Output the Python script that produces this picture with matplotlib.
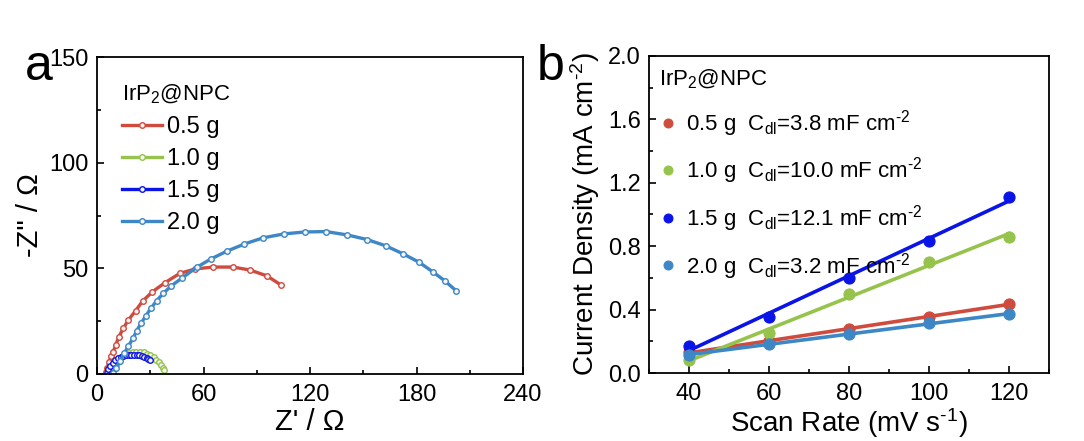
import matplotlib
matplotlib.use("Agg")
import matplotlib.pyplot as plt
import numpy as np
from matplotlib.ticker import MultipleLocator

plt.rcParams['font.family'] = ['Liberation Sans', 'DejaVu Sans']
plt.rcParams['mathtext.fontset'] = 'custom'
plt.rcParams['mathtext.rm'] = 'Liberation Sans'
plt.rcParams['mathtext.it'] = 'Liberation Sans'

# ---- panel a: Nyquist plots ----
labels_a = ['0.5 g', '1.0 g', '1.5 g', '2.0 g']

zr_05 = [5.1, 5.6, 6.8, 7.9, 9.2, 10.5, 12.4, 14.8, 17.7, 21.8, 25.7, 31.2, 38.3,
         46.6, 55.2, 65.4, 76.6, 86.2, 95.8, 103.7]
zi_05 = [1.0, 2.8, 5.7, 8.5, 10.6, 13.7, 17.7, 21.6, 25.6, 30.0, 34.5, 38.9, 43.2,
         47.6, 49.7, 50.6, 50.6, 49.2, 46.4, 42.1]

zr_10 = [8.3, 9.3, 10.5, 11.8, 13.2, 14.8, 16.5, 18.3, 20.2, 22.2, 24.2, 26.2,
         28.2, 30.1, 31.9, 33.5, 35.0, 36.3, 37.4, 38.0]
zi_10 = [0.3, 2.4, 4.3, 5.9, 7.2, 8.3, 9.2, 9.9, 10.3, 10.5, 10.5, 10.2,
         9.7, 8.9, 7.9, 6.8, 5.6, 4.3, 3.0, 1.8]

zr_15 = [5.4, 6.4, 7.6, 8.9, 10.3, 11.8, 13.3, 14.8, 16.3, 17.8, 19.3, 20.8,
         22.3, 23.8, 25.2, 26.6, 27.9, 29.0, 29.9]
zi_15 = [0.3, 2.3, 4.0, 5.4, 6.5, 7.4, 8.0, 8.5, 8.8, 9.0, 9.1, 9.1,
         9.0, 8.8, 8.5, 8.1, 7.6, 7.1, 6.6]

zr_20 = [8.8, 10.5, 13.0, 15.4, 17.7, 20.3, 22.4, 24.8, 27.4, 30.4, 33.6, 37.4,
         41.7, 47.7, 56.2, 64.1, 73.1, 83.0, 93.4, 105.4, 117.0, 129.0, 141.0,
         152.3, 162.8, 172.6, 181.4, 189.1, 196.1, 202.3]
zi_20 = [0.5, 2.7, 6.3, 9.8, 13.3, 16.9, 20.5, 24.0, 27.4, 31.1, 34.7, 38.2,
         41.6, 45.3, 50.5, 54.4, 58.1, 61.5, 64.4, 66.3, 67.2, 67.4, 65.8,
         63.6, 60.6, 56.8, 52.9, 48.4, 44.0, 39.4]

# ---- panel b: Cdl ----
scan_rate = [40, 60, 80, 100, 120]
j_05 = [0.13, 0.20, 0.28, 0.355, 0.435]
j_10 = [0.082, 0.25, 0.50, 0.70, 0.86]
j_15 = [0.17, 0.355, 0.597, 0.835, 1.11]
j_20 = [0.114, 0.183, 0.246, 0.313, 0.372]
cdl = ['3.8', '10.0', '12.1', '3.2']

colors = ['#cf4b3e', '#96c34c', '#0a14e6', '#3e87c6']

fig = plt.figure(figsize=(10.84, 4.41), dpi=100)
ax1 = fig.add_axes([97/1084, 67/441, 426/1084, 317/441])
ax2 = fig.add_axes([649/1084, 68/441, 400/1084, 317/441])

for ax in (ax1, ax2):
    for s in ax.spines.values():
        s.set_linewidth(1.3)
    ax.tick_params(which='both', direction='in', top=False, right=False,
                   labelsize=17, width=1.2)
    ax.tick_params(which='major', length=5)
    ax.tick_params(which='minor', length=3)
    ax.tick_params(axis='x', pad=7)
    ax.tick_params(axis='y', pad=6)

# panel a
za = [(zr_05, zi_05), (zr_10, zi_10), (zr_15, zi_15), (zr_20, zi_20)]
for (x, y), c, lab in zip(za, colors, labels_a):
    ax1.plot(x, y, '-o', color=c, lw=2.4, ms=4, mfc='#f4f4f4', mec=c, mew=1.0, label=lab)
ax1.set_xlim(0, 240)
ax1.set_ylim(0, 150)
ax1.xaxis.set_major_locator(MultipleLocator(60))
ax1.xaxis.set_minor_locator(MultipleLocator(30))
ax1.yaxis.set_major_locator(MultipleLocator(50))
ax1.yaxis.set_minor_locator(MultipleLocator(25))
ax1.set_xlabel("Z' / Ω", fontsize=21, labelpad=2)
ax1.set_ylabel('-Z" / Ω', fontsize=21, labelpad=4)
ax1.legend(title='IrP$_2$@NPC', loc='upper left', bbox_to_anchor=(0.02, 0.97),
           frameon=False, fontsize=17, title_fontsize=16, alignment='left',
           handlelength=1.7, handletextpad=0.2, labelspacing=0.42,
           borderaxespad=0.3)
fig.text(25/1084, 1 - 80/441, 'a', fontsize=36)

# panel b
jb = [j_05, j_10, j_15, j_20]
handles = []
for y, c, lab, cd in zip(jb, colors, labels_a, cdl):
    k, b = np.polyfit(scan_rate, y, 1)
    xs = np.array([scan_rate[0], scan_rate[-1]])
    ax2.plot(xs, k * xs + b, '-', color=c, lw=2.6)
    h = ax2.plot(scan_rate, y, 'o', color=c, ms=8, mec=c, mew=0.8,
                 label=lab + r'  C$_{dl}$=' + cd + r' mF cm$^{\text{-2}}$')[0]
    handles.append(h)
ax2.set_xlim(30, 130)
ax2.set_ylim(0, 2.0)
ax2.xaxis.set_major_locator(MultipleLocator(20))
ax2.xaxis.set_minor_locator(MultipleLocator(10))
ax2.yaxis.set_major_locator(MultipleLocator(0.4))
ax2.yaxis.set_minor_locator(MultipleLocator(0.2))
ax2.yaxis.set_major_formatter(matplotlib.ticker.FormatStrFormatter('%.1f'))
ax2.set_xlabel(r'Scan Rate (mV s$^{\text{-1}}$)', fontsize=20, labelpad=1)
ax2.set_ylabel(r'Current Density (mA cm$^{\text{-2}}$)', fontsize=20, labelpad=4)
ax2.legend(handles=handles, title='IrP$_2$@NPC', loc='upper left',
           bbox_to_anchor=(-0.025, 1.025), frameon=False, fontsize=16,
           title_fontsize=16, alignment='left', handlelength=0.8,
           handletextpad=0.4, labelspacing=0.75, markerscale=0.8)
fig.text(537/1084, 1 - 80/441, 'b', fontsize=36)

fig.savefig('out.png', dpi=100)
